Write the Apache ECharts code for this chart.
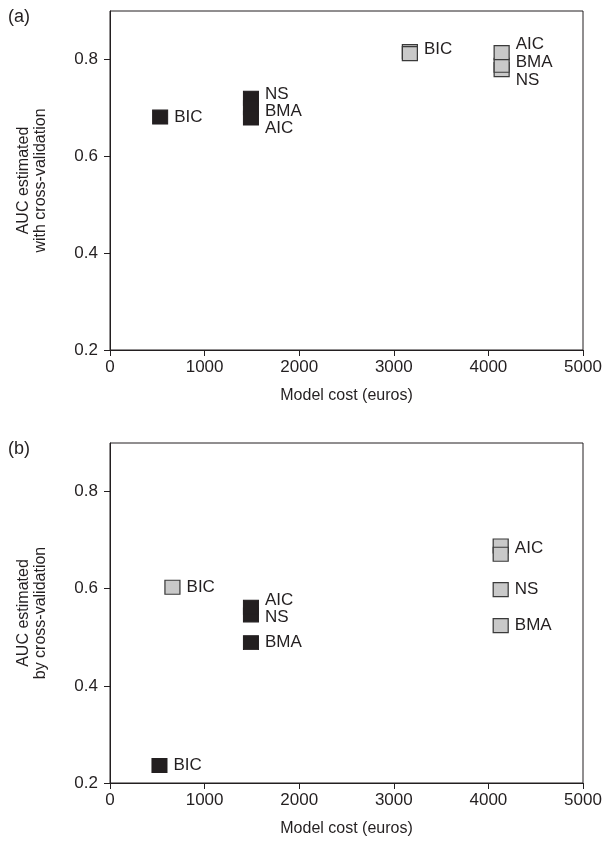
<!DOCTYPE html>
<html><head><meta charset="utf-8">
<script src="https://cdn.jsdelivr.net/npm/echarts@6/dist/echarts.min.js"></script>
<style>html,body{margin:0;padding:0;background:#fff}#c{width:606px;height:843px}</style>
</head><body><div id="c"></div>
<script>
// ---- data ----
const xTicks = [0, 1000, 2000, 3000, 4000, 5000];
const yTicks = [0.2, 0.4, 0.6, 0.8];
// Panel (a)
const aBlackCost = [530, 1490, 1490, 1490];
const aBlackAuc  = [0.681, 0.720, 0.700, 0.679];
const aBlackName = ['BIC', 'NS', 'BMA', 'AIC'];
const aGrayCost  = [3170, 3170, 4140, 4140, 4140];
const aGrayAuc   = [0.816, 0.812, 0.779, 0.788, 0.814];
const aGrayName  = ['BIC', '', 'NS', 'BMA', 'AIC'];
// Panel (b)
const bBlackCost = [523, 1490, 1490, 1490];
const bBlackAuc  = [0.236, 0.546, 0.562, 0.489];
const bBlackName = ['BIC', 'NS', 'AIC', 'BMA'];
const bGrayCost  = [660, 4130, 4130, 4130, 4130];
const bGrayAuc   = [0.603, 0.688, 0.671, 0.598, 0.524];
const bGrayName  = ['BIC', 'AIC', '', 'NS', 'BMA'];

// ---- label nudges (layout only, px) ----
const labelShift = {
  'a-black': {BIC: 0, NS: -4, BMA: 3, AIC: 10},
  'a-gray':  {BIC: -2, AIC: -8, BMA: -3, NS: 11},
  'b-black': {BIC: 0, AIC: -7, NS: 2, BMA: 0},
  'b-gray':  {BIC: 0, AIC: 2, NS: 0, BMA: 0}
};

const FONT = '"Liberation Sans", Arial, Helvetica, sans-serif';
const INK = '#231f20';
const FS = 17;

function items(key, cost, auc, names) {
  return cost.map((c, i) => ({
    name: names[i],
    value: [c, auc[i]],
    label: { offset: [0, (labelShift[key][names[i]] || 0)] }
  }));
}

function series(key, idx, cost, auc, names, gray) {
  return {
    type: 'scatter',
    xAxisIndex: idx, yAxisIndex: idx,
    symbol: 'rect',
    symbolSize: [15, 14],
    itemStyle: gray
      ? { color: '#c9c9c9', borderColor: '#3a3a3a', borderWidth: 1.2, opacity: 1 }
      : { color: INK, borderColor: INK, borderWidth: 1, opacity: 1 },
    label: {
      show: true, position: 'right', distance: 6,
      formatter: p => p.name,
      fontFamily: FONT, fontSize: FS, color: INK, opacity: 1
    },
    emphasis: { disabled: true },
    silent: true,
    data: items(key, cost, auc, names)
  };
}

function xAxis(i) {
  return {
    type: 'value', gridIndex: i, min: 0, max: 5000, interval: 1000,
    name: 'Model cost (euros)', nameLocation: 'middle', nameGap: 38,
    nameTextStyle: { fontFamily: FONT, fontSize: 16, color: INK },
    axisLine: { show: true, lineStyle: { color: INK, width: 1 } },
    axisTick: { show: true, length: 6, customValues: xTicks, lineStyle: { color: INK } },
    axisLabel: { fontFamily: FONT, fontSize: FS, color: INK, margin: 9, customValues: xTicks,
                 formatter: v => String(Math.round(v)) },
    splitLine: { show: false }
  };
}

function yAxis(i, title) {
  return {
    type: 'value', gridIndex: i, min: 0.2, max: 0.9, interval: 0.2,
    name: title, nameLocation: 'middle', nameRotate: 90, nameGap: 61,
    nameTextStyle: { fontFamily: FONT, fontSize: 16, color: INK, lineHeight: 17, align: 'center' },
    axisLine: { show: true, lineStyle: { color: INK, width: 1 } },
    axisTick: { show: true, length: 6, customValues: yTicks, lineStyle: { color: INK } },
    axisLabel: { fontFamily: FONT, fontSize: FS, color: INK, margin: 12, customValues: yTicks,
                 formatter: v => Number(v).toFixed(1) },
    splitLine: { show: false }
  };
}

const chart = echarts.init(document.getElementById('c'), null, { renderer: 'canvas' });
chart.setOption({
  animation: false,
  backgroundColor: '#fff',
  grid: [
    { left: 110, right: 23, top: 11, height: 339, show: true, borderColor: INK, borderWidth: 1 },
    { left: 110, right: 23, top: 443, height: 340, show: true, borderColor: INK, borderWidth: 1 }
  ],
  xAxis: [xAxis(0), xAxis(1)],
  yAxis: [
    yAxis(0, 'AUC estimated\nwith cross-validation'),
    yAxis(1, 'AUC estimated\nby cross-validation')
  ],
  graphic: [
    { type: 'text', left: 8, top: 8, style: { text: '(a)', font: '18px ' + FONT, fill: INK } },
    { type: 'text', left: 8, top: 440, style: { text: '(b)', font: '18px ' + FONT, fill: INK } }
  ],
  series: [
    series('a-black', 0, aBlackCost, aBlackAuc, aBlackName, false),
    series('a-gray', 0, aGrayCost, aGrayAuc, aGrayName, true),
    series('b-black', 1, bBlackCost, bBlackAuc, bBlackName, false),
    series('b-gray', 1, bGrayCost, bGrayAuc, bGrayName, true)
  ]
});
</script></body></html>
